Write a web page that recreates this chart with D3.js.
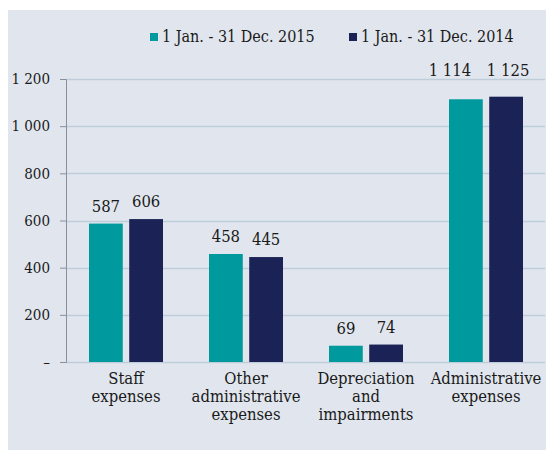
<!DOCTYPE html>
<html>
  <head>
    <script src="https://d3js.org/d3.v7.min.js"></script>
    <style>
      body { margin: 0; background: #fff; }
      text { font-family: "DejaVu Serif Condensed", "DejaVu Serif", serif; font-stretch: condensed; fill: #1a1a1a; }
    </style>
  </head>
  <body>
    <div id="chart"></div>
    <script>
      // Data
      const categories = [
        ["Staff", "expenses"],
        ["Other", "administrative", "expenses"],
        ["Depreciation", "and", "impairments"],
        ["Administrative", "expenses"]
      ];
      const seriesNames = ["1 Jan. - 31 Dec. 2015", "1 Jan. - 31 Dec. 2014"];
      const values2015 = [587, 458, 69, 1114];
      const values2014 = [606, 445, 74, 1125];
      const yTicks = [0, 200, 400, 600, 800, 1000, 1200];
      const colors = ["#009a9e", "#1b2255"];

      const W = 547, H = 451;
      const margin = { top: 79, right: 1, bottom: 89, left: 66 };
      const width = W - margin.left - margin.right;
      const height = H - margin.top - margin.bottom;

      // number format with a space as thousands separator
      const fmt = d3.formatLocale({ decimal: ".", thousands: " ", grouping: [3], currency: ["", ""] }).format(",d");

      const root = d3.select("#chart").append("svg").attr("width", W).attr("height", H);
      root.append("rect").attr("x", 8).attr("y", 10).attr("width", 538).attr("height", 440).attr("fill", "#e1e6ee");

      const svg = root.append("g").attr("transform", `translate(${margin.left}, ${margin.top})`);

      const data = categories.map((c, i) => ({ label: c, vals: [values2015[i], values2014[i]] }));

      const x = d3.scaleBand().domain(d3.range(categories.length)).range([0, width]);
      const x1 = d3.scaleBand().domain([0, 1]).range([x.bandwidth() / 2 - 37, x.bandwidth() / 2 + 37]).paddingInner(0.16);
      const y = d3.scaleLinear().domain([0, 1200]).range([height, 0]);

      // gridlines
      svg.append("g")
        .selectAll("line")
        .data(yTicks)
        .join("line")
        .attr("x1", 0)
        .attr("x2", width - 1)
        .attr("y1", (d) => Math.round(y(d)) + 0.5)
        .attr("y2", (d) => Math.round(y(d)) + 0.5)
        .attr("stroke", "#bfcddb")
        .attr("stroke-width", 1.5);

      // y axis
      const yAxis = svg.append("g")
        .call(d3.axisLeft(y).tickValues(yTicks).tickSize(6).tickPadding(10).tickFormat((d) => (d === 0 ? "–" : fmt(d))));
      yAxis.select(".domain").attr("stroke", "#8a8f99");
      yAxis.selectAll(".tick line").attr("stroke", "#8a8f99");
      yAxis.selectAll("text").style("font-size", "15px").attr("fill", "#1a1a1a");

      // bars
      const groups = svg.selectAll(".grp")
        .data(data)
        .join("g")
        .attr("class", "grp")
        .attr("transform", (d, i) => `translate(${x(i)},0)`);

      groups.selectAll("rect")
        .data((d) => d.vals)
        .join("rect")
        .attr("x", (d, j) => x1(j))
        .attr("y", (d) => y(d))
        .attr("width", x1.bandwidth())
        .attr("height", (d) => height - y(d))
        .attr("fill", (d, j) => colors[j]);

      // value labels; wide ones are lifted above the top gridline and the left one moves aside
      const topY = y(yTicks[yTicks.length - 1]);
      groups.each(function (d) {
        const g = d3.select(this);
        const wide = d.vals[0] >= 1000 && d.vals[1] >= 1000;
        g.selectAll(".val")
          .data(d.vals)
          .join("text")
          .attr("class", "val")
          .attr("x", (v, j) => x1(j) + x1.bandwidth() / 2 + (wide ? (j === 0 ? -16 : 2) : 0))
          .attr("y", (v) => (y(v) - 12 < topY + 14 ? topY - 3 : y(v) - 12))
          .attr("text-anchor", "middle")
          .style("font-size", "16.5px")
          .text((v) => fmt(v));
      });

      // category labels
      groups.append("text")
        .attr("text-anchor", "middle")
        .attr("x", x.bandwidth() / 2)
        .attr("y", height + 22)
        .style("font-size", "16.5px")
        .selectAll("tspan")
        .data((d) => d.label)
        .join("tspan")
        .attr("x", x.bandwidth() / 2)
        .attr("dy", (d, k) => (k === 0 ? 0 : 18))
        .text((d) => d);

      // legend
      const legend = root.append("g");
      const legX = [150, 349];
      seriesNames.forEach((s, i) => {
        legend.append("rect").attr("x", legX[i]).attr("y", 33).attr("width", 8).attr("height", 8).attr("fill", colors[i]);
        legend.append("text").attr("x", legX[i] + 12).attr("y", 42).style("font-size", "16px").text(s);
      });
    </script>
  </body>
</html>
